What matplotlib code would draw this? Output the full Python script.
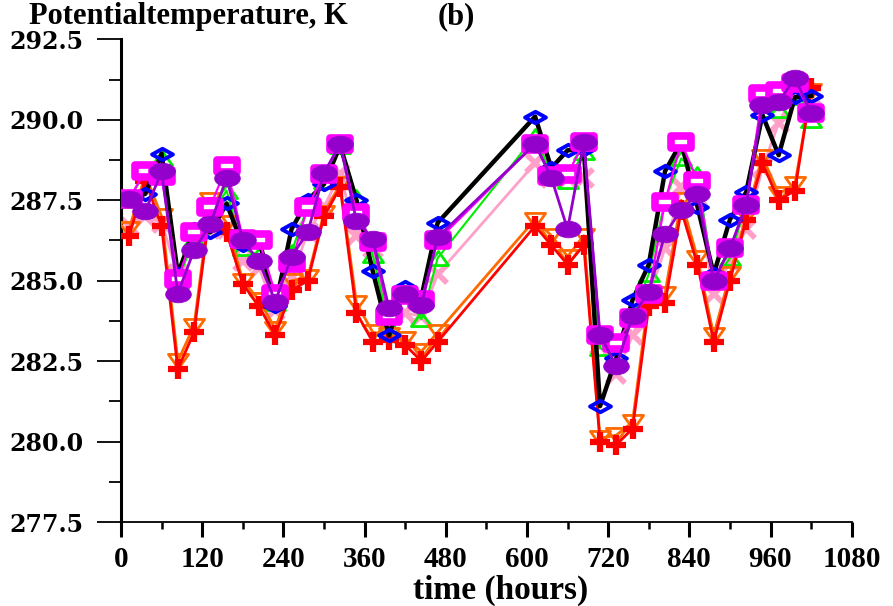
import matplotlib
matplotlib.use("Agg")
import matplotlib.pyplot as plt
from matplotlib.path import Path
from matplotlib.transforms import Affine2D
from matplotlib.ticker import MultipleLocator

# time of each sample (hours)
hours = [12, 36, 60, 84, 108, 132, 156, 180, 204, 228, 252, 276, 300, 324, 348, 372, 396, 420, 444, 468,
         612, 636, 660, 684, 708, 732, 756, 780, 804, 828, 852, 876, 900, 924, 948, 972, 996, 1020]

# potential temperature, K
black_diam = [287.5, 287.7, 288.95, 285.2, 286.6, 286.5, 287.4, 286.1, 286.3, 284.2, 286.6, 287.5, 288.0, 289.2,
              287.5, 285.3, 283.3, 284.8, 284.5, 286.8,
              290.1, 288.5, 289.05, 289.1, 281.1, 282.6, 284.4, 285.5, 288.4, 289.3, 287.3, 285.2, 286.9, 287.75,
              290.15, 288.9, 290.7, 290.75]
green_tri = [287.5, 288.4, 288.8, 285.0, 286.3, 287.0, 287.8, 286.0, 285.8, 284.3, 285.9, 287.3, 288.1, 289.2,
             287.6, 285.8, 283.6, 284.6, 283.8, 285.7,
             289.5, 288.3, 288.1, 289.0, 282.9, 282.7, 283.9, 285.2, 287.5, 288.8, 288.3, 285.0, 285.7, 287.4,
             290.3, 290.3, 290.7, 290.0]
pink_x = [286.7, 287.0, 286.8, 285.2, 286.2, 286.6, 286.6, 285.6, 285.4, 284.1, 285.1, 286.5, 287.3, 288.3,
          286.4, 286.0, 283.5, 284.0, 283.9, 285.2,
          288.65, 288.2, 288.2, 288.2, 283.0, 282.1, 283.3, 284.5, 286.0, 287.9, 287.6, 284.6, 285.6, 286.6,
          288.5, 289.9, 290.9, 290.3]
orange_tri = [286.6, 288.3, 287.0, 282.5, 283.6, 287.5, 286.8, 285.0, 284.4, 283.5, 285.0, 285.1, 287.1, 288.0,
              284.3, 283.4, 283.3, 283.2, 282.8, 283.4,
              286.9, 286.4, 285.75, 286.4, 280.1, 280.2, 280.6, 284.5, 284.6, 287.5, 285.7, 283.3, 285.2, 287.0,
              288.85, 287.7, 288.0, 290.9]
red_plus = [286.4, 288.1, 286.7, 282.25, 283.4, 287.3, 286.5, 284.9, 284.2, 283.3, 284.7, 285.0, 287.0, 287.9,
            284.0, 283.1, 283.15, 283.0, 282.5, 283.1,
            286.7, 286.1, 285.5, 286.1, 280.0, 279.9, 280.4, 284.2, 284.3, 287.2, 285.5, 283.1, 285.0, 286.9,
            288.65, 287.5, 287.8, 291.0]
magenta_sq = [287.55, 288.4, 288.25, 285.05, 286.5, 287.3, 288.55, 286.3, 286.25, 284.6, 285.55, 287.3, 288.3, 289.25,
              287.1, 286.2, 283.9, 284.55, 284.4, 286.25,
              289.25, 288.25, 288.3, 289.3, 283.3, 283.05, 283.85, 284.6, 287.45, 289.3, 288.1, 285.0, 286.0, 287.35,
              290.8, 290.9, 291.15, 290.2]
purple_ell = [287.55, 287.15, 288.4, 284.6, 285.95, 286.75, 288.2, 286.25, 285.6, 284.35, 285.75, 286.5, 288.35, 289.25,
              286.85, 286.3, 284.15, 284.6, 284.25, 286.35,
              289.25, 288.2, 286.6, 289.3, 283.3, 282.35, 283.9, 284.65, 286.45, 287.2, 287.7, 285.0, 286.0, 287.35,
              290.45, 290.55, 291.3, 290.2]

yticks = [277.5, 280.0, 282.5, 285.0, 287.5, 290.0, 292.5]

# flattened marker shapes (the original markers are wider than tall)
def flat(verts, sy):
    return Path(verts, closed=True).transformed(Affine2D().scale(1.0, sy))

ellipse = Path.unit_circle().transformed(Affine2D().scale(1.0, 0.65))
diamond = flat([(0, 1), (1, 0), (0, -1), (-1, 0), (0, 1)], 0.55)
rect = flat([(-1, -1), (1, -1), (1, 1), (-1, 1), (-1, -1)], 0.65)
tri_up = flat([(-1, -1), (1, -1), (0, 1), (-1, -1)], 0.7)
tri_dn = flat([(-1, 1), (1, 1), (0, -1), (-1, 1)], 0.7)

serif = ["Liberation Serif", "DejaVu Serif"]

fig = plt.figure(figsize=(8.93, 6.06), dpi=100)
ax = fig.add_axes([0.1355, 0.1386, 0.8183, 0.7965])

ax.plot(hours, pink_x, color="#ffa0c8", lw=2, marker="x", ms=13, mew=4, zorder=2)
ax.plot(hours, green_tri, color="#00ee00", lw=1.5, marker=tri_up, ms=14.5, mfc="none", mew=2, zorder=2)
ax.plot(hours, orange_tri, color="#ff6a00", lw=2, marker=tri_dn, ms=14.5, mfc="none", mew=2, zorder=3)
ax.plot(hours, red_plus, color="#ff0000", lw=2, marker="+", ms=15, mew=4.5, zorder=3)
ax.plot(hours, black_diam, color="black", lw=3.2, marker=diamond, ms=15, mfc="none", mec="#0000ff", mew=2.8, zorder=4)
ax.plot(hours, magenta_sq, color="#ff00ff", lw=1.6, marker=rect, ms=14, mfc="white", mec="#ff00ff", mew=5.5, zorder=5)
ax.plot(hours, purple_ell, color="#9400cc", lw=2, marker=ellipse, ms=18.5, mfc="#9400cc", mec="#9400cc", mew=0.5, zorder=6)

ax.set_xlim(0, 1080)
ax.set_ylim(277.5, 292.5)
ax.xaxis.set_major_locator(MultipleLocator(120))
ax.xaxis.set_minor_locator(MultipleLocator(60))
ax.set_yticks(yticks)
ax.set_yticklabels(["%.1f" % v for v in yticks])
ax.yaxis.set_minor_locator(MultipleLocator(1.25))

for s in ["top", "right"]:
    ax.spines[s].set_visible(False)
ax.spines["left"].set_linewidth(2.2)
ax.spines["bottom"].set_linewidth(1.3)

ax.tick_params(axis="x", which="major", direction="out", length=11, width=2.2, pad=6)
ax.tick_params(axis="x", which="minor", direction="out", length=5, width=1.8)
ax.tick_params(axis="y", which="major", direction="out", length=17, width=1.3, pad=10)
ax.tick_params(axis="y", which="minor", direction="out", length=8.5, width=1.3)

for lab in ax.get_xticklabels():
    lab.set_fontfamily(serif)
    lab.set_fontweight("bold")
    lab.set_fontsize(21)
for lab in ax.get_yticklabels():
    lab.set_fontfamily(["DejaVu Serif"])
    lab.set_fontweight("bold")
    lab.set_fontsize(17)

ax.set_xlabel("time (hours)", fontfamily=serif, fontweight="bold", fontsize=24)
ax.xaxis.set_label_coords(0.52, -0.158)
ax.xaxis.label.set_va("baseline")

fig.text(29 / 893, 1 - 24 / 606, "Potentialtemperature, K", fontfamily=serif, fontweight="bold",
         fontsize=22, ha="left", va="baseline")
fig.text(438 / 893, 1 - 24 / 606, "(b)", fontfamily=serif, fontweight="bold",
         fontsize=22, ha="left", va="baseline")

fig.savefig("out.png", dpi=100)
